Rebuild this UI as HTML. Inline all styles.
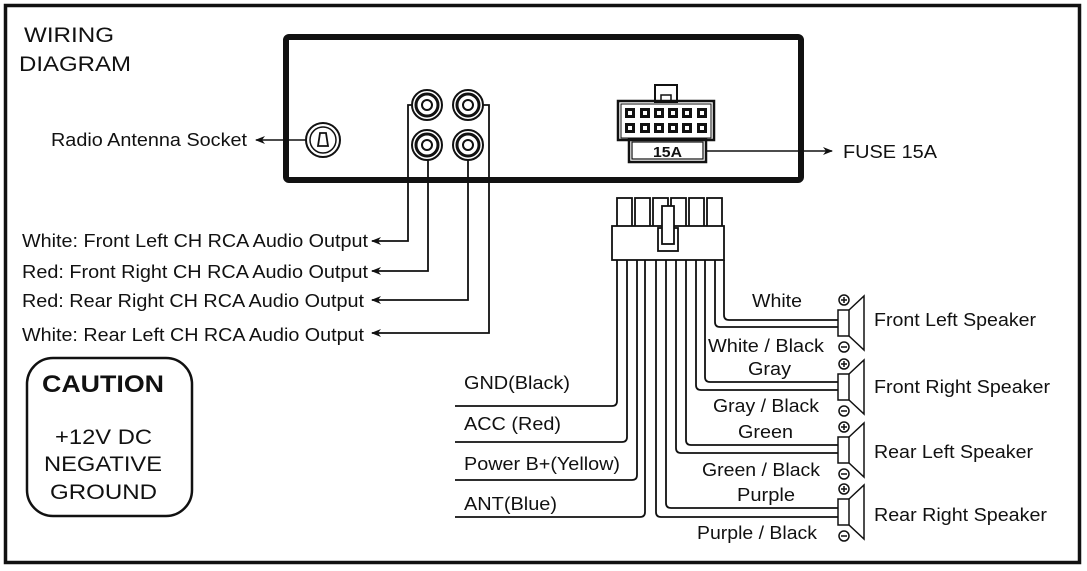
<!DOCTYPE html>
<html><head><meta charset="utf-8"><style>
html,body{margin:0;padding:0;background:#fff;}
svg{display:block;font-family:"Liberation Sans",Arial,sans-serif;}
text{fill:#111;}
</style></head><body>
<svg width="1087" height="571" viewBox="0 0 1087 571" xmlns="http://www.w3.org/2000/svg">
<defs>
<marker id="ar" markerWidth="10" markerHeight="8" refX="9" refY="4" orient="auto" markerUnits="userSpaceOnUse">
<path d="M0,0 L10,4 L0,8 L3,4 Z" fill="#111"/></marker>
</defs>
<rect x="5.5" y="5.5" width="1074" height="557" fill="none" stroke="#111" stroke-width="3.5"/>
<text x="24" y="42" font-size="21" textLength="90" lengthAdjust="spacingAndGlyphs">WIRING</text>
<text x="19" y="71" font-size="21" textLength="112" lengthAdjust="spacingAndGlyphs">DIAGRAM</text>

<rect x="286" y="37" width="515" height="143" rx="3" fill="none" stroke="#111" stroke-width="6"/>
<circle cx="323" cy="140" r="17" fill="#fff" stroke="#111" stroke-width="2"/>
<circle cx="323" cy="140" r="13" fill="none" stroke="#111" stroke-width="1.5"/>
<path d="M320,133 L326,133 L328,146 L318,146 Z" fill="none" stroke="#111" stroke-width="1.8"/>
<line x1="306" y1="140" x2="256" y2="140" stroke="#111" stroke-width="1.5" marker-end="url(#ar)"/>
<g font-size="18" lengthAdjust="spacingAndGlyphs">
<text x="51" y="146" textLength="196" lengthAdjust="spacingAndGlyphs">Radio Antenna Socket</text>
</g>

<g fill="#fff" stroke="#111">
<circle cx="427" cy="105" r="15" stroke-width="2"/><circle cx="427" cy="105" r="11" stroke-width="3"/><circle cx="427" cy="105" r="5" stroke-width="2"/>
<circle cx="468" cy="105" r="15" stroke-width="2"/><circle cx="468" cy="105" r="11" stroke-width="3"/><circle cx="468" cy="105" r="5" stroke-width="2"/>
<circle cx="427" cy="145" r="15" stroke-width="2"/><circle cx="427" cy="145" r="11" stroke-width="3"/><circle cx="427" cy="145" r="5" stroke-width="2"/>
<circle cx="468" cy="145" r="15" stroke-width="2"/><circle cx="468" cy="145" r="11" stroke-width="3"/><circle cx="468" cy="145" r="5" stroke-width="2"/>
</g>
<g fill="none" stroke="#111" stroke-width="1.8">
<polyline points="412,105 408,105 408,241 372,241" marker-end="url(#ar)"/>
<polyline points="428,160 428,271 372,271" marker-end="url(#ar)"/>
<polyline points="468,160 468,300 372,300" marker-end="url(#ar)"/>
<polyline points="483,105 489,105 489,333 372,333" marker-end="url(#ar)"/>
</g>
<g font-size="18">
<text x="22" y="247" textLength="346" lengthAdjust="spacingAndGlyphs">White: Front Left CH RCA Audio Output</text>
<text x="22" y="278" textLength="346" lengthAdjust="spacingAndGlyphs">Red: Front Right CH RCA Audio Output</text>
<text x="22" y="307" textLength="342" lengthAdjust="spacingAndGlyphs">Red: Rear Right CH RCA Audio Output</text>
<text x="22" y="341" textLength="342" lengthAdjust="spacingAndGlyphs">White: Rear Left CH RCA Audio Output</text>
</g>

<g fill="none" stroke="#111">
<rect x="655" y="85" width="22" height="17" stroke-width="2"/>
<rect x="661" y="95" width="10" height="6" stroke-width="1.5"/>
<rect x="618" y="101" width="96" height="39" stroke-width="2.5"/>
<rect x="621" y="104" width="90" height="34" stroke-width="1"/>
<rect x="629" y="139" width="77" height="23" stroke-width="2.5"/>
<rect x="632" y="142" width="71" height="17" stroke-width="1.2"/>
</g>
<g fill="#111">
<rect x="625" y="108" width="10" height="10"/><rect x="640" y="108" width="10" height="10"/><rect x="654" y="108" width="10" height="10"/><rect x="668" y="108" width="10" height="10"/><rect x="682" y="108" width="10" height="10"/><rect x="697" y="108" width="10" height="10"/>
<rect x="625" y="123" width="10" height="10"/><rect x="640" y="123" width="10" height="10"/><rect x="654" y="123" width="10" height="10"/><rect x="668" y="123" width="10" height="10"/><rect x="682" y="123" width="10" height="10"/><rect x="697" y="123" width="10" height="10"/>
</g>
<g fill="#fff">
<rect x="628" y="111" width="4" height="4"/><rect x="643" y="111" width="4" height="4"/><rect x="657" y="111" width="4" height="4"/><rect x="671" y="111" width="4" height="4"/><rect x="685" y="111" width="4" height="4"/><rect x="700" y="111" width="4" height="4"/>
<rect x="628" y="126" width="4" height="4"/><rect x="643" y="126" width="4" height="4"/><rect x="657" y="126" width="4" height="4"/><rect x="671" y="126" width="4" height="4"/><rect x="685" y="126" width="4" height="4"/><rect x="700" y="126" width="4" height="4"/>
</g>
<text x="653" y="157" font-size="15" font-weight="bold" textLength="29" lengthAdjust="spacingAndGlyphs">15A</text>
<line x1="706" y1="151" x2="832" y2="151" stroke="#111" stroke-width="1.5" marker-end="url(#ar)"/>
<text x="843" y="158" font-size="18" textLength="94" lengthAdjust="spacingAndGlyphs">FUSE 15A</text>

<g fill="#fff" stroke="#111" stroke-width="1.8">
<rect x="617" y="198" width="15" height="30"/><rect x="635" y="198" width="15" height="30"/><rect x="653" y="198" width="15" height="30"/><rect x="671" y="198" width="15" height="30"/><rect x="689" y="198" width="15" height="30"/><rect x="707" y="198" width="15" height="30"/>
<rect x="612" y="226" width="112" height="34"/>
<rect x="658" y="228" width="20" height="23"/>
<rect x="662" y="206" width="12" height="38"/>
</g>

<g fill="none" stroke="#111" stroke-width="1.8">
<path d="M617,260 V401 Q617,406 612,406 H455"/>
<path d="M627,260 V437 Q627,442 622,442 H455"/>
<path d="M637,260 V475 Q637,480 632,480 H455"/>
<path d="M645,260 V512 Q645,517 640,517 H455"/>
<path d="M724,260 V315 Q724,320 729,320 H838"/>
<path d="M715,260 V322 Q715,327 720,327 H838"/>
<path d="M705,260 V377 Q705,382 710,382 H838"/>
<path d="M696,260 V385 Q696,390 701,390 H838"/>
<path d="M686,260 V440 Q686,445 691,445 H838"/>
<path d="M676,260 V448 Q676,453 681,453 H838"/>
<path d="M666,260 V503 Q666,508 671,508 H838"/>
<path d="M656,260 V512 Q656,517 661,517 H838"/>
</g>
<g font-size="18">
<text x="464" y="389" textLength="106" lengthAdjust="spacingAndGlyphs">GND(Black)</text>
<text x="464" y="430" textLength="97" lengthAdjust="spacingAndGlyphs">ACC (Red)</text>
<text x="464" y="470" textLength="156" lengthAdjust="spacingAndGlyphs">Power B+(Yellow)</text>
<text x="464" y="510" textLength="93" lengthAdjust="spacingAndGlyphs">ANT(Blue)</text>
<text x="752" y="307" textLength="50" lengthAdjust="spacingAndGlyphs">White</text>
<text x="708" y="352" textLength="116" lengthAdjust="spacingAndGlyphs">White / Black</text>
<text x="748" y="375" textLength="43" lengthAdjust="spacingAndGlyphs">Gray</text>
<text x="713" y="412" textLength="106" lengthAdjust="spacingAndGlyphs">Gray / Black</text>
<text x="738" y="438" textLength="55" lengthAdjust="spacingAndGlyphs">Green</text>
<text x="702" y="476" textLength="118" lengthAdjust="spacingAndGlyphs">Green / Black</text>
<text x="737" y="501" textLength="58" lengthAdjust="spacingAndGlyphs">Purple</text>
<text x="697" y="539" textLength="120" lengthAdjust="spacingAndGlyphs">Purple / Black</text>
<text x="874" y="326" textLength="162" lengthAdjust="spacingAndGlyphs">Front Left Speaker</text>
<text x="874" y="393" textLength="176" lengthAdjust="spacingAndGlyphs">Front Right Speaker</text>
<text x="874" y="458" textLength="159" lengthAdjust="spacingAndGlyphs">Rear Left Speaker</text>
<text x="874" y="521" textLength="173" lengthAdjust="spacingAndGlyphs">Rear Right Speaker</text>
</g>

<g fill="#fff" stroke="#111" stroke-width="1.5">
<g transform="translate(0,323)">
<rect x="838" y="-13" width="11" height="26"/><polyline points="849,-13 864,-27 864,27 849,13" fill="none"/>
<circle cx="844" cy="-23" r="5"/><path d="M841,-23 H847 M844,-26 V-20"/><circle cx="844" cy="24" r="5"/><path d="M841,24 H847"/></g>
<g transform="translate(0,387)">
<rect x="838" y="-13" width="11" height="26"/><polyline points="849,-13 864,-27 864,27 849,13" fill="none"/>
<circle cx="844" cy="-23" r="5"/><path d="M841,-23 H847 M844,-26 V-20"/><circle cx="844" cy="24" r="5"/><path d="M841,24 H847"/></g>
<g transform="translate(0,450)">
<rect x="838" y="-13" width="11" height="26"/><polyline points="849,-13 864,-27 864,27 849,13" fill="none"/>
<circle cx="844" cy="-23" r="5"/><path d="M841,-23 H847 M844,-26 V-20"/><circle cx="844" cy="24" r="5"/><path d="M841,24 H847"/></g>
<g transform="translate(0,512)">
<rect x="838" y="-13" width="11" height="26"/><polyline points="849,-13 864,-27 864,27 849,13" fill="none"/>
<circle cx="844" cy="-23" r="5"/><path d="M841,-23 H847 M844,-26 V-20"/><circle cx="844" cy="24" r="5"/><path d="M841,24 H847"/></g>
</g>

<rect x="27" y="358" width="165" height="158" rx="26" fill="none" stroke="#111" stroke-width="2.5"/>
<text x="42" y="392" font-size="24" font-weight="bold" textLength="122" lengthAdjust="spacingAndGlyphs">CAUTION</text>
<text x="55" y="444" font-size="21" textLength="97" lengthAdjust="spacingAndGlyphs">+12V DC</text>
<text x="44" y="471" font-size="21" textLength="118" lengthAdjust="spacingAndGlyphs">NEGATIVE</text>
<text x="50" y="499" font-size="21" textLength="107" lengthAdjust="spacingAndGlyphs">GROUND</text>
</svg>
</body></html>
